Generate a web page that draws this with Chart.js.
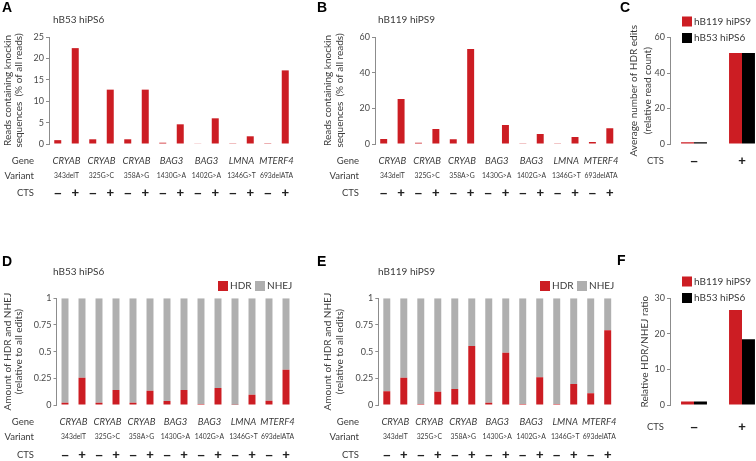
<!DOCTYPE html>
<html>
<head>
<meta charset="utf-8">
<script src="https://cdn.jsdelivr.net/npm/chart.js@4"></script>
<style>
  body { margin: 0; background: #fff; width: 756px; height: 461px; overflow: hidden; position: relative; }
  canvas { position: absolute; }
</style>
</head>
<body>
<canvas id="chartA" width="310" height="225" style="left:0px;top:0px"></canvas>
<canvas id="chartB" width="310" height="225" style="left:310px;top:0px"></canvas>
<canvas id="chartC" width="170" height="225" style="left:610px;top:0px"></canvas>
<canvas id="chartD" width="310" height="236" style="left:0px;top:225px"></canvas>
<canvas id="chartE" width="310" height="236" style="left:310px;top:225px"></canvas>
<canvas id="chartF" width="170" height="236" style="left:610px;top:225px"></canvas>

<script>
  // Data
  var genes = ['CRYAB', 'CRYAB', 'CRYAB', 'BAG3', 'BAG3', 'LMNA', 'MTERF4'];
  var variants = ['343delT', '325G>C', '358A>G', '1430G>A', '1402G>A', '1346G>T', '693delATA'];
  var ctsSigns = ['–', '+'];

  // A / B: reads containing knockin sequences (%), order: -,+ per variant
  var readsB53 = [0.9, 22.4, 1.1, 12.7, 1.1, 12.7, 0.3, 4.6, 0.15, 6.0, 0.05, 1.8, 0.2, 17.2];
  var readsB119 = [2.8, 25.3, 0.75, 8.4, 2.6, 53.3, 0.3, 10.7, 0.2, 5.6, 0.2, 3.9, 1.1, 8.8];

  // C: average number of HDR edits
  var hdrEditsB119 = [1.0, 51.2];
  var hdrEditsB53 = [1.0, 51.2];

  // D / E: fraction HDR and NHEJ
  var hdrB53 = [0.02, 0.256, 0.02, 0.14, 0.02, 0.134, 0.037, 0.14, 0.01, 0.16, 0.003, 0.097, 0.04, 0.33];
  var nhejB53 = [0.98, 0.744, 0.98, 0.86, 0.98, 0.866, 0.963, 0.86, 0.99, 0.84, 0.997, 0.903, 0.96, 0.67];
  var hdrB119 = [0.13, 0.256, 0.01, 0.125, 0.15, 0.553, 0.02, 0.49, 0.01, 0.26, 0.01, 0.197, 0.11, 0.70];
  var nhejB119 = [0.87, 0.744, 0.99, 0.875, 0.85, 0.447, 0.98, 0.51, 0.99, 0.74, 0.99, 0.803, 0.89, 0.30];

  // F: relative HDR/NHEJ ratio
  var ratioB119 = [1.0, 26.7];
  var ratioB53 = [1.0, 18.5];

  var ticksA = [0, 5, 10, 15, 20, 25];
  var ticks60 = [0, 20, 40, 60];
  var ticksFrac = [0, 0.25, 0.5, 0.75, 1];
  var ticksF = [0, 10, 20, 30];

  // category labels, one per bar
  var categories = [];
  genes.forEach(function (g, i) {
    ctsSigns.forEach(function (s) { categories.push(g + ' ' + variants[i] + ' ' + s); });
  });

  var RED = '#cc1d23', GRAY = '#afafaf', BLACK = '#000000', TXT = '#3a3a3a';
  var FONT = "Lato, 'Liberation Sans', sans-serif";

  Chart.defaults.font.family = FONT;
  Chart.defaults.color = '#4a4a4a';
  Chart.defaults.animation = false;
  Chart.defaults.plugins.legend.display = false;
  Chart.defaults.plugins.tooltip.enabled = false;

  function text(ctx, s, x, y, font, align, color) {
    ctx.font = font;
    ctx.textAlign = align || 'left';
    ctx.textBaseline = 'middle';
    ctx.fillStyle = color || TXT;
    ctx.fillText(s, x, y);
  }

  // letters, titles, legends and the Gene / Variant / CTS table
  var panelPlugin = {
    id: 'panel',
    afterDraw: function (chart) {
      var o = chart.options.plugins.panel;
      if (!o || !o.letter) return;
      var ctx = chart.ctx, L = o.left, T = o.top;
      ctx.save();
      text(ctx, o.letter[2], o.letter[0] - L, o.letter[1] - T, 'bold 14px "Liberation Sans"', 'left', '#000');
      if (o.title) text(ctx, o.title[2], o.title[0] - L, o.title[1] - T, '10px ' + FONT, 'left');
      (o.legend || []).forEach(function (it) {
        ctx.fillStyle = it[2];
        ctx.fillRect(it[0] - L, it[1] - T - 5, 10, 10);
        text(ctx, it[3], it[0] - L + 12, it[1] - T, '10px ' + FONT, 'left');
      });
      var xs = chart.scales.x, r = o.rows;
      var n = chart.data.labels.length;
      if (r.pairs) {
        text(ctx, 'Gene', r.labelX - L, r.geneY - T, '9.5px ' + FONT, 'right');
        text(ctx, 'Variant', r.labelX - L, r.varY - T, '9.5px ' + FONT, 'right');
        genes.forEach(function (g, i) {
          var x = (xs.getPixelForValue(2 * i) + xs.getPixelForValue(2 * i + 1)) / 2;
          text(ctx, g, x, r.geneY - T, 'italic 9.5px ' + FONT, 'center');
          text(ctx, variants[i], x, r.varY - T, '6.8px ' + FONT, 'center');
        });
      }
      text(ctx, 'CTS', r.labelX - L, r.ctsY - T, '9.5px ' + FONT, 'right');
      for (var i = 0; i < n; i++) {
        text(ctx, ctsSigns[i % 2], xs.getPixelForValue(i), r.ctsY - T, 'bold 13px "Liberation Sans"', 'center', '#222');
      }
      ctx.restore();
    }
  };

  function yAxis(min, max, ticks, width, title, lineH, titleSize) {
    return {
      min: min, max: max,
      afterFit: function (scale) { scale.width = width; },
      afterBuildTicks: function (scale) { scale.ticks = ticks.map(function (v) { return { value: v }; }); },
      border: { display: true, color: '#8c8c8c' },
      grid: { drawOnChartArea: false, drawTicks: true, tickLength: 3, color: '#8c8c8c' },
      ticks: { padding: 2, font: { size: 9 }, color: '#4a4a4a', callback: function (v) { return String(v); } },
      title: { display: true, text: title, font: { size: titleSize || 10, lineHeight: lineH }, color: TXT, padding: { top: 2, bottom: 0 } }
    };
  }

  function pairChart(id, datasets, stacked, y, pad, panel) {
    return new Chart(document.getElementById(id).getContext('2d'), {
      type: 'bar',
      data: { labels: categories, datasets: datasets },
      options: {
        responsive: false,
        layout: { padding: pad },
        scales: {
          x: { display: false, stacked: stacked },
          y: Object.assign(y, { stacked: stacked })
        },
        plugins: { panel: panel }
      },
      plugins: [panelPlugin]
    });
  }

  function groupChart(id, a, b, y, pad, panel) {
    return new Chart(document.getElementById(id).getContext('2d'), {
      type: 'bar',
      data: {
        labels: ctsSigns,
        datasets: [
          { label: 'hB119 hiPS9', data: a, backgroundColor: RED, categoryPercentage: 0.54, barPercentage: 1 },
          { label: 'hB53 hiPS6', data: b, backgroundColor: BLACK, categoryPercentage: 0.54, barPercentage: 1 }
        ]
      },
      options: {
        responsive: false,
        layout: { padding: pad },
        scales: { x: { display: false }, y: y },
        plugins: { panel: panel }
      },
      plugins: [panelPlugin]
    });
  }

  var readsTitle = ['Reads containing knockin', 'sequences  (% of all reads)'];
  var fracTitle = ['Amount of HDR and NHEJ', '(relative to all edits)'];

  // A
  pairChart('chartA',
    [{ data: readsB53, backgroundColor: RED, barPercentage: 0.4, categoryPercentage: 1 }],
    false,
    yAxis(0, 25, ticksA, 49, readsTitle, 1.15),
    { left: 0, top: 37, right: 16, bottom: 81 },
    { left: 0, top: 0, letter: [2, 8, 'A'], title: [53, 20, 'hB53 hiPS6'],
      rows: { pairs: true, labelX: 34, geneY: 161, varY: 176, ctsY: 193 } });

  // B
  pairChart('chartB',
    [{ data: readsB119, backgroundColor: RED, barPercentage: 0.4, categoryPercentage: 1 }],
    false,
    yAxis(0, 60, ticks60, 54.5, readsTitle, 1.15),
    { left: 10.5, top: 37, right: 1.5, bottom: 81 },
    { left: 310, top: 0, letter: [317, 8, 'B'], title: [378, 20, 'hB119 hiPS9'],
      rows: { pairs: true, labelX: 359, geneY: 161, varY: 176, ctsY: 193 } });

  // C
  groupChart('chartC', hdrEditsB119, hdrEditsB53,
    yAxis(0, 60, ticks60, 45.5, ['Average number of HDR edits', '(relative read count)'], 1.4),
    { left: 14.5, top: 37.5, right: 14, bottom: 81 },
    { left: 610, top: 0, letter: [620, 8, 'C'],
      legend: [[682, 21.5, RED, 'hB119 hiPS9'], [682, 38, BLACK, 'hB53 hiPS6']],
      rows: { pairs: false, labelX: 664, ctsY: 161 } });

  // D
  pairChart('chartD',
    [{ label: 'HDR', data: hdrB53, backgroundColor: RED, barPercentage: 0.41, categoryPercentage: 1 },
     { label: 'NHEJ', data: nhejB53, backgroundColor: GRAY, barPercentage: 0.41, categoryPercentage: 1 }],
    true,
    yAxis(0, 1, ticksFrac, 56.5, fracTitle, 1.15),
    { left: 0, top: 73.3, right: 15.5, bottom: 56 },
    { left: 0, top: 225, letter: [2, 262, 'D'], title: [53, 272, 'hB53 hiPS6'],
      legend: [[218, 286, RED, 'HDR'], [255, 286, GRAY, 'NHEJ']],
      rows: { pairs: true, labelX: 34, geneY: 422, varY: 437, ctsY: 455 } });

  // E
  pairChart('chartE',
    [{ label: 'HDR', data: hdrB119, backgroundColor: RED, barPercentage: 0.41, categoryPercentage: 1 },
     { label: 'NHEJ', data: nhejB119, backgroundColor: GRAY, barPercentage: 0.41, categoryPercentage: 1 }],
    true,
    yAxis(0, 1, ticksFrac, 57.8, fracTitle, 1.15),
    { left: 10.5, top: 73.3, right: 3.8, bottom: 56 },
    { left: 310, top: 225, letter: [317, 262, 'E'], title: [378, 272, 'hB119 hiPS9'],
      legend: [[540, 286, RED, 'HDR'], [577, 286, GRAY, 'NHEJ']],
      rows: { pairs: true, labelX: 359, geneY: 422, varY: 437, ctsY: 455 } });

  // F
  groupChart('chartF', ratioB119, ratioB53,
    yAxis(0, 30, ticksF, 33.6, 'Relative HDR/NHEJ ratio', 1.2),
    { left: 26.4, top: 73.3, right: 14, bottom: 56 },
    { left: 610, top: 225, letter: [617, 261, 'F'],
      legend: [[682, 281.5, RED, 'hB119 hiPS9'], [682, 298, BLACK, 'hB53 hiPS6']],
      rows: { pairs: false, labelX: 664, ctsY: 427 } });
</script>
</body>
</html>
